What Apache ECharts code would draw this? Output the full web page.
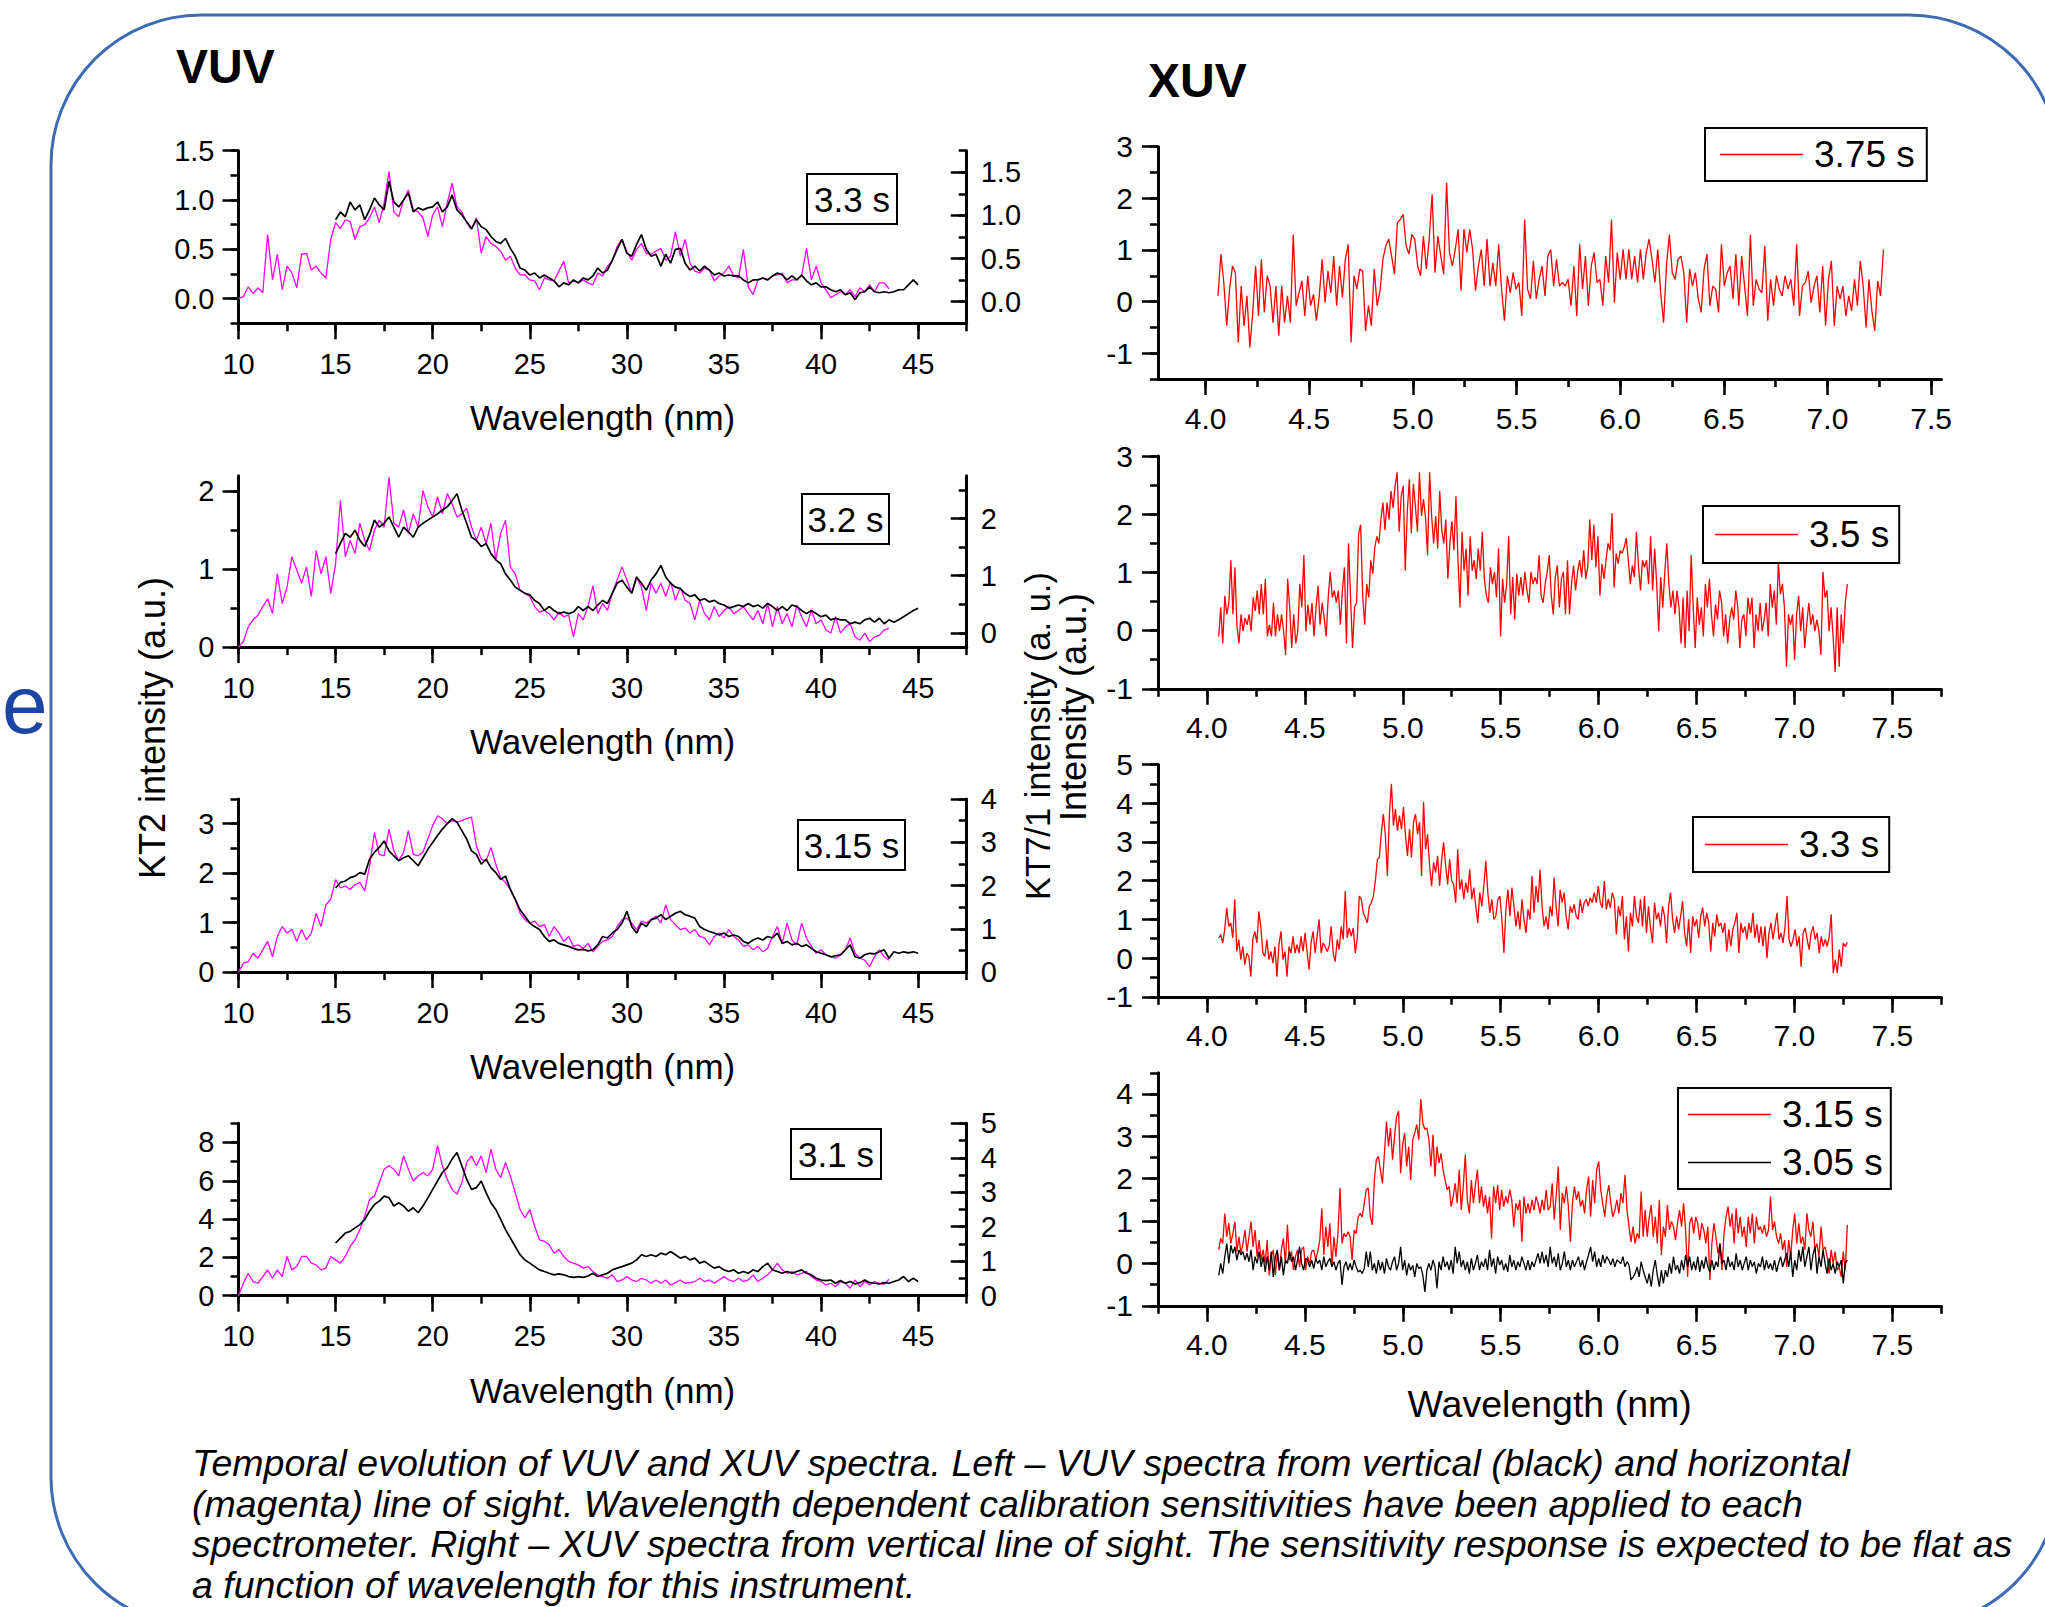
<!DOCTYPE html>
<html><head><meta charset="utf-8">
<script src="https://cdn.jsdelivr.net/npm/echarts@6/dist/echarts.min.js"></script>
<style>html,body{margin:0;padding:0;background:#fff}#c{width:2045px;height:1607px}</style>
</head><body><div id="c"></div>
<script>
// ---------------- DATA ----------------
// VUV spectra: wavelength grid, magenta (horizontal LOS) from 10 nm, black (vertical LOS) from 15 nm, step 0.25 nm
const VUV_STEP = 0.25;
const VUV_MAG_START = 10;
const VUV_BLK_START = 15;
const vuvTimes = ['3.3 s', '3.2 s', '3.15 s', '3.1 s'];

const vuvMag_33 = [0.0,0.02,0.12,0.05,0.11,0.06,0.65,0.19,0.45,0.09,0.33,0.26,0.11,0.45,0.46,0.29,0.33,0.26,0.21,0.6,
0.77,0.71,0.8,0.78,0.6,0.73,0.75,0.82,0.93,0.77,0.97,1.29,0.88,0.83,1.0,1.1,0.9,0.88,0.82,0.63,0.85,0.93,0.73,0.97,1.17,0.93,0.88,0.77,
0.7,0.82,0.46,0.63,0.56,0.53,0.48,0.39,0.43,0.31,0.24,0.24,0.19,0.18,0.09,0.21,0.19,0.18,0.28,0.38,0.16,0.18,0.16,0.19,0.16,0.14,0.26,0.23,
0.33,0.38,0.53,0.6,0.48,0.39,0.5,0.56,0.46,0.45,0.48,0.51,0.39,0.43,0.68,0.43,0.6,0.36,0.28,0.26,0.31,0.29,0.18,0.23,0.26,0.33,0.23,0.21,
0.5,0.12,0.04,0.19,0.21,0.19,0.23,0.24,0.26,0.16,0.19,0.19,0.23,0.51,0.19,0.33,0.16,0.09,0.01,0.04,0.07,0.04,0.09,0.02,0.11,0.07,0.14,0.07,
0.16,0.16,0.10];
const vuvBlk_33 = [0.8,0.88,0.83,0.98,0.9,0.95,0.8,0.9,1.02,0.95,0.9,1.19,0.98,0.93,1.0,1.07,0.88,0.92,0.9,0.92,0.93,0.98,0.88,0.93,
1.05,0.9,0.85,0.78,0.71,0.8,0.73,0.7,0.63,0.58,0.56,0.61,0.51,0.43,0.31,0.29,0.24,0.26,0.21,0.24,0.21,0.18,0.12,0.16,
0.14,0.19,0.16,0.21,0.19,0.23,0.31,0.26,0.29,0.39,0.5,0.6,0.46,0.43,0.55,0.65,0.5,0.43,0.45,0.33,0.45,0.36,0.5,0.51,
0.36,0.29,0.33,0.28,0.33,0.29,0.24,0.26,0.23,0.24,0.23,0.23,0.19,0.16,0.19,0.19,0.21,0.19,0.23,0.26,0.24,0.19,0.23,0.19,
0.24,0.18,0.14,0.16,0.12,0.12,0.09,0.07,0.09,0.04,0.06,-0.01,0.06,0.07,0.12,0.07,0.06,0.07,0.06,0.07,0.09,0.09,0.14,0.19,0.14];

const vuvMag_32 = [0,0.07,0.26,0.35,0.41,0.52,0.62,0.43,0.94,0.56,0.77,1.16,0.99,0.82,1.03,0.65,1.24,0.94,1.16,0.69,
1.07,1.88,1.16,1.37,1.2,1.59,1.37,1.24,1.5,1.63,1.54,2.18,1.59,1.54,1.76,1.46,1.71,1.54,2.01,1.8,1.67,1.93,1.71,1.97,
1.84,1.67,1.71,1.78,1.54,1.37,1.54,1.33,1.59,1.12,1.46,1.63,1.03,0.94,0.73,0.69,0.65,0.52,0.45,0.47,0.43,0.35,0.45,0.39,
0.41,0.13,0.43,0.35,0.52,0.79,0.43,0.56,0.47,0.69,0.86,1.03,0.86,0.69,0.9,0.77,0.47,0.82,0.69,0.82,0.65,0.84,0.6,0.77,
0.6,0.56,0.35,0.6,0.43,0.35,0.52,0.39,0.47,0.52,0.43,0.47,0.52,0.43,0.35,0.47,0.3,0.56,0.26,0.52,0.3,0.43,0.26,0.54,
0.39,0.26,0.47,0.3,0.35,0.22,0.18,0.39,0.18,0.26,0.3,0.13,0.09,0.18,0.07,0.13,0.15,0.22,0.24];
const vuvBlk_32 = [1.2,1.33,1.46,1.41,1.5,1.37,1.29,1.44,1.63,1.54,1.59,1.67,1.54,1.41,1.54,1.48,1.41,1.54,1.59,1.63,
1.67,1.71,1.76,1.8,1.88,1.97,1.76,1.59,1.41,1.37,1.29,1.33,1.2,1.12,1.07,0.94,0.86,0.77,0.73,0.69,0.67,0.6,0.56,0.47,
0.52,0.47,0.43,0.45,0.43,0.45,0.52,0.47,0.52,0.47,0.54,0.6,0.56,0.69,0.82,0.86,0.77,0.69,0.9,0.82,0.73,0.86,0.94,1.05,
0.9,0.82,0.77,0.75,0.69,0.65,0.67,0.6,0.62,0.58,0.6,0.56,0.54,0.5,0.52,0.54,0.52,0.56,0.52,0.54,0.5,0.56,0.52,0.47,
0.52,0.47,0.54,0.52,0.47,0.43,0.47,0.43,0.39,0.41,0.35,0.37,0.35,0.35,0.3,0.32,0.3,0.35,0.37,0.32,0.37,0.3,0.35,0.32,
0.35,0.39,0.43,0.47,0.5];

const vuvMag_315 = [0,0.18,0.21,0.38,0.28,0.45,0.62,0.31,0.72,0.92,0.79,0.86,0.62,0.86,0.65,0.79,1.19,0.92,1.36,1.47,
1.87,1.70,1.74,1.67,1.77,1.81,1.64,2.15,2.82,2.38,2.35,2.89,2.45,2.25,2.42,2.86,2.38,2.35,2.42,2.69,2.96,3.16,3.10,3.00,
3.06,3.03,3.06,3.10,3.13,2.55,2.28,2.25,2.52,2.18,1.91,1.81,1.67,1.47,1.19,1.06,0.99,1.03,0.92,0.96,0.72,0.92,0.79,0.62,
0.72,0.52,0.55,0.48,0.58,0.41,0.52,0.62,0.65,0.72,0.92,1.06,1.09,0.99,0.86,1.03,0.99,1.06,1.13,0.99,1.36,1.06,0.96,0.86,
0.89,0.79,0.86,0.72,0.69,0.55,0.72,0.79,0.69,0.86,0.72,0.65,0.52,0.55,0.45,0.52,0.41,0.48,0.72,0.92,0.58,0.99,0.65,0.55,
0.99,0.69,0.52,0.38,0.45,0.35,0.31,0.28,0.35,0.45,0.69,0.38,0.28,0.24,0.11,0.31,0.45,0.31,0.24];
const vuvBlk_315 = [1.70,1.81,1.84,1.91,1.94,2.01,1.98,2.28,2.42,2.52,2.65,2.45,2.35,2.25,2.31,2.35,2.25,2.15,2.31,2.48,
2.62,2.76,2.89,3.0,3.1,3.03,2.86,2.69,2.45,2.38,2.18,2.28,2.11,2.01,1.87,1.94,1.67,1.47,1.26,1.13,0.99,0.92,0.86,0.72,
0.62,0.65,0.58,0.55,0.52,0.48,0.45,0.46,0.43,0.45,0.55,0.72,0.69,0.79,0.86,0.99,1.23,0.92,0.79,0.99,0.92,1.06,1.09,1.16,
1.06,1.13,1.19,1.23,1.16,1.13,1.09,0.92,0.86,0.82,0.79,0.75,0.79,0.72,0.75,0.72,0.62,0.58,0.65,0.69,0.65,0.72,0.69,0.79,
0.58,0.62,0.55,0.58,0.52,0.55,0.48,0.41,0.38,0.35,0.31,0.33,0.35,0.45,0.55,0.31,0.28,0.35,0.38,0.37,0.41,0.45,0.28,0.41,
0.38,0.41,0.39,0.41,0.38];

const vuvMag_31 = [0,0.65,1.17,0.74,0.65,1.0,1.35,0.91,1.35,1.0,2.05,1.35,1.52,2.05,2.05,1.7,1.61,1.35,1.44,2.05,
1.87,1.7,2.05,2.57,2.92,3.45,4.15,5.03,5.2,5.9,6.6,6.78,6.6,6.25,7.3,6.6,5.99,6.25,6.43,6.25,6.6,7.83,6.78,6.08,
5.55,5.29,5.9,6.95,7.3,6.78,7.3,6.43,7.65,6.6,6.16,6.95,6.25,5.38,4.5,4.06,4.5,3.63,2.92,2.84,2.66,2.22,2.4,2.05,
1.79,1.7,1.61,1.44,1.52,1.26,1.09,1.0,0.91,1.09,0.74,0.82,1.0,0.82,0.74,0.91,0.82,0.65,0.82,0.65,0.82,0.56,0.68,0.82,
0.65,0.68,0.74,0.91,0.74,0.82,0.65,0.82,1.0,0.82,0.74,0.91,0.74,0.82,1.09,0.74,0.91,1.09,1.35,1.7,1.35,1.17,1.26,1.09,
1.17,1.26,1.0,0.82,0.74,0.56,0.65,0.47,0.74,0.65,0.39,0.82,0.47,0.74,0.56,0.74,0.65,0.61,0.86];
const vuvBlk_31 = [2.75,3.01,3.27,3.36,3.54,3.71,3.98,4.41,4.76,4.94,5.2,5.11,4.68,4.85,4.68,4.41,4.59,4.33,4.68,5.11,
5.55,5.99,6.43,6.69,7.13,7.48,6.78,6.08,5.55,5.64,5.99,5.38,4.85,4.5,3.98,3.45,3.01,2.57,2.14,1.87,1.7,1.52,1.35,1.26,
1.17,1.09,1.14,1.09,1.0,0.96,1.0,0.96,1.03,1.17,1.0,1.09,1.17,1.35,1.44,1.52,1.61,1.7,1.87,2.14,2.05,2.14,2.05,2.22,
2.14,2.31,2.14,1.96,2.05,1.87,1.96,1.7,1.79,1.61,1.44,1.52,1.35,1.26,1.35,1.17,1.26,1.17,1.35,1.26,1.52,1.7,1.35,1.26,
1.17,1.26,1.17,1.26,1.35,1.17,1.09,0.91,0.82,0.79,0.82,0.65,0.79,0.65,0.74,0.61,0.68,0.82,0.68,0.65,0.61,0.68,0.65,0.74,
0.82,1.0,0.74,0.91,0.74];

// XUV spectra: uniformly sampled between 4.06 nm and 7.27 nm
const XUV_START = 4.06;
const XUV_END = 7.27;
const xuvTimes = ['3.75 s', '3.5 s', '3.3 s', '3.15 s', '3.05 s'];

const xuv_375 = [0.11,0.92,0.37,-0.47,0.24,0.69,0.56,-0.79,0.3,-0.47,0.11,-0.89,-0.21,0.69,-0.28,0.82,-0.21,0.5,0.3,-0.41,0.3,-0.66,0.3,-0.41,0.11,-0.41,1.3,-0.08,0.17,0.4,-0.28,0.5,-0.08,0.14,-0.37,0.11,0.82,-0.02,0.59,0.17,0.88,-0.08,0.69,0.08,0.82,1.11,-0.79,0.5,0.24,0.63,0.59,-0.57,-0.08,-0.47,0.63,-0.08,0.21,0.82,1.08,1.21,0.88,0.53,1.53,1.59,1.69,1.08,0.92,1.3,1.21,0.69,0.5,1.27,0.63,1.21,2.08,0.56,1.27,0.88,0.53,2.3,0.95,0.69,1.01,1.4,0.21,1.4,0.95,1.4,1.01,0.21,0.69,1.01,0.3,1.21,0.3,0.75,0.3,1.11,0.24,-0.37,0.5,0.17,0.56,0.24,0.37,-0.28,1.59,0.24,0.05,0.79,0.05,0.43,0.69,0.11,0.88,1.01,0.3,0.82,0.3,0.37,0.3,0.43,-0.08,0.69,-0.28,1.11,0.24,0.88,-0.08,0.69,0.95,0.37,0.43,-0.08,0.88,0.37,1.59,-0.02,0.95,0.43,1.01,0.43,1.01,0.43,0.88,0.37,1.01,0.43,0.95,1.21,0.82,0.37,1.01,0.17,-0.41,0.69,1.3,0.56,0.43,0.82,0.88,0.56,-0.41,0.63,0.3,0.56,0.05,-0.21,0.63,0.92,-0.08,0.3,0.24,-0.21,1.11,0.3,0.56,0.69,0.05,0.92,-0.08,0.88,0.3,-0.28,1.3,-0.08,0.43,0.24,0.17,1.08,-0.37,0.43,-0.08,0.5,0.24,0.11,0.5,0.24,0.43,-0.08,1.11,-0.28,0.3,0.37,0.59,-0.02,0.3,0.5,-0.21,0.69,-0.47,0.43,0.79,-0.47,0.3,0.05,0.3,-0.28,0.11,-0.18,0.43,-0.08,0.79,0.3,-0.5,0.43,-0.18,-0.57,0.4,0.11,1.01];

const xuv_35 = [-0.1,0.4,-0.22,0.6,0.28,0.48,1.21,0.28,1.09,0.08,-0.22,0.28,-0.01,0.22,0.1,0.28,-0.01,0.57,0.34,0.69,0.28,0.8,0.28,0.89,-0.1,0.1,-0.1,0.48,-0.1,0.28,-0.01,0.28,-0.01,-0.42,0.89,0.4,-0.3,0.28,-0.22,-0.01,0.8,0.4,1.3,-0.01,0.45,0.1,0.48,-0.1,0.4,0.77,0.1,0.48,0.22,-0.1,0.57,1.01,0.57,0.69,0.48,0.69,0.1,0.69,1.09,-0.22,1.5,0.6,-0.3,0.4,0.48,1.67,1.82,0.6,0.1,0.8,0.57,1.21,0.98,1.44,1.62,1.5,1.91,2.2,1.73,2.2,1.91,2.4,2.11,2.49,2.72,1.7,2.31,2.49,1.03,2.05,2.6,1.67,2.52,2.14,1.7,2.72,1.97,2.26,1.94,1.3,2.72,1.97,1.5,1.97,1.41,2.4,1.73,1.5,1.91,0.89,1.5,1.88,1.38,2.31,1.21,0.4,1.7,1.03,1.41,0.6,1.62,1.03,1.21,0.89,1.41,1.03,1.7,0.89,0.6,0.48,1.09,0.8,1.01,0.57,1.41,-0.1,0.89,0.48,0.8,1.62,0.28,0.92,0.19,0.98,0.6,0.92,0.6,1.01,0.69,0.48,1.01,0.8,0.92,0.8,1.3,0.6,0.48,0.8,1.01,1.3,0.6,0.28,0.92,1.12,0.4,0.89,1.01,0.28,1.21,0.28,0.8,1.12,0.69,1.01,1.21,0.92,1.38,0.89,1.09,1.91,1.21,1.82,1.09,1.62,0.6,1.15,0.89,1.21,1.5,1.38,2.02,0.74,1.33,1.15,1.38,1.33,1.44,1.59,1.21,0.8,1.12,0.92,1.7,1.12,0.69,1.21,1.09,1.21,0.8,1.62,0.69,1.41,0.8,-0.01,0.92,0.4,1.01,1.5,0.8,0.4,0.69,0.28,0.69,0.4,-0.22,0.57,-0.3,0.69,-0.01,1.3,0.4,-0.3,0.57,0.1,0.4,-0.1,0.8,0.4,0.89,0.28,-0.1,0.45,0.19,0.69,0.48,-0.1,0.28,-0.22,0.19,0.4,0.19,0.69,0.4,-0.3,0.19,0.28,-0.1,0.57,0.28,0.57,-0.3,0.28,-0.01,0.48,-0.01,0.19,0.48,-0.1,0.8,0.4,0.69,0.1,1.18,0.63,0.8,0.4,-0.62,0.28,0.1,0.28,-0.5,0.28,0.6,-0.01,0.4,-0.3,0.1,0.48,0.1,0.28,-0.01,0.19,-0.01,-0.42,1.01,0.57,0.69,-0.01,0.4,-0.1,-0.71,0.4,-0.62,0.28,-0.22,0.48,0.8];

const xuv_33 = [0.52,0.61,0.39,0.74,1.3,0.82,0.91,0.52,1.52,0.17,0.48,-0.04,0.3,-0.17,0.13,0.04,-0.48,0.48,0.69,0.39,1.21,0.78,0.13,0.04,0.48,-0.04,0.17,-0.13,0.3,-0.48,0.35,0.69,-0.04,0.17,-0.48,0.3,0.13,0.56,0.13,0.35,0.13,0.56,0.17,0.65,0.17,-0.3,0.39,0.69,0.13,0.56,1.0,0.13,0.39,0.3,0.17,0.3,0.82,0.13,-0.09,0.48,0.22,0.82,0.48,1.73,0.52,0.78,0.56,0.78,0.13,0.52,1.6,1.52,1.17,1.04,0.91,1.34,1.43,1.6,1.99,2.55,2.6,3.25,3.72,3.16,2.12,3.72,4.5,3.42,3.85,3.29,3.68,3.33,3.9,3.16,2.64,3.33,2.6,3.51,3.72,3.2,3.51,2.12,4.03,2.81,3.2,2.38,1.86,2.47,2.21,2.64,1.86,2.55,2.99,2.38,1.9,2.55,1.99,1.9,1.43,2.81,1.77,2.03,1.52,1.95,1.69,2.29,1.52,1.82,1.34,0.91,1.69,1.34,1.86,2.51,1.69,1.17,1.52,1.0,1.08,1.52,1.6,1.0,0.13,1.26,1.77,1.08,1.82,1.34,0.82,1.21,0.74,1.52,1.0,0.65,1.26,1.0,2.12,1.17,1.86,1.43,2.29,1.34,0.82,1.08,0.74,1.34,1.08,2.08,1.34,0.82,1.77,1.43,1.69,1.08,0.74,1.34,1.17,1.39,1.08,1.0,1.52,1.17,1.43,1.52,1.34,1.56,1.43,1.69,1.43,1.86,1.43,1.3,1.99,1.26,1.52,1.3,1.69,1.52,0.61,1.34,1.08,1.6,0.48,1.08,0.17,1.17,0.82,1.6,1.08,0.91,1.52,0.82,1.6,0.65,1.34,0.78,0.39,1.43,1.0,1.17,0.82,1.34,1.08,0.39,1.34,1.69,1.0,0.65,1.08,0.74,1.08,1.47,0.65,0.3,1.0,0.13,1.08,0.82,1.0,0.52,1.08,1.3,0.82,1.17,0.91,0.17,0.91,0.56,1.13,0.82,0.91,0.65,0.91,0.17,0.74,0.3,0.74,0.91,1.17,0.13,0.91,0.65,0.82,0.48,0.91,0.65,1.17,0.52,0.87,0.39,0.82,0.3,0.82,0.0,0.65,0.91,0.48,0.82,1.17,0.48,0.65,0.39,0.82,1.6,0.48,0.3,0.48,0.74,0.3,0.56,-0.22,0.65,0.78,0.48,0.22,0.65,0.82,0.48,0.65,0.13,0.56,0.3,0.48,0.3,0.56,1.13,-0.39,-0.04,-0.39,0.22,-0.22,0.39,0.3,0.41];

const xuv_315 = [0.32,0.59,0.47,1.18,0.63,0.95,0.47,0.71,0.99,0.28,0.63,0.24,0.47,0.79,0.28,0.63,0.99,0.39,0.79,0.16,0.55,0.08,0.32,0.0,0.55,-0.28,0.16,0.32,-0.28,0.24,-0.16,0.32,0.59,0.0,0.91,0.08,0.28,-0.16,0.16,0.32,-0.08,0.32,0.39,-0.16,0.16,0.0,0.28,0.32,0.08,0.28,0.55,1.3,0.2,0.87,0.39,0.95,-0.08,0.63,0.16,0.71,1.78,0.47,0.71,0.63,0.75,0.63,0.08,0.79,0.71,1.1,1.18,1.1,1.42,1.74,1.78,1.1,0.91,1.97,2.45,2.53,2.21,1.89,2.6,3.35,2.76,3.2,2.45,3.0,3.47,3.59,2.13,2.8,3.08,2.29,2.76,1.97,2.92,3.08,3.28,2.92,3.88,3.31,3.16,3.2,2.92,2.29,3.04,2.05,2.76,2.37,2.6,2.21,1.97,1.74,1.82,1.34,1.58,1.89,1.42,2.21,1.26,1.82,2.57,1.5,1.18,1.97,1.42,1.85,2.21,1.42,1.82,1.34,1.62,1.18,1.58,0.59,1.82,1.42,1.85,1.26,1.74,1.34,1.58,1.42,1.74,1.5,0.87,1.42,1.26,1.5,0.51,1.58,1.18,1.42,1.18,1.5,1.26,1.58,1.42,1.18,1.5,1.26,1.74,1.26,1.34,1.89,1.03,1.62,2.29,0.79,1.66,1.42,1.82,1.34,0.51,1.42,1.82,1.5,1.7,1.34,1.5,1.18,1.74,2.05,1.1,1.97,1.42,2.21,2.41,1.74,1.42,1.1,1.58,1.85,1.42,1.1,1.26,1.5,1.18,1.66,1.42,2.09,1.26,0.87,0.51,0.87,0.47,0.71,0.59,1.7,0.63,1.26,0.63,1.1,1.38,0.63,1.1,0.47,1.5,0.2,0.87,0.63,1.38,0.79,0.99,0.87,0.55,0.95,1.26,0.87,1.42,0.79,-0.32,0.95,1.1,0.71,1.1,0.95,0.55,0.95,0.79,0.47,0.87,-0.39,0.47,0.95,0.63,0.24,0.47,-0.16,0.71,1.1,1.34,0.87,1.18,0.47,1.3,0.71,1.1,0.63,0.87,0.39,1.1,0.71,1.18,0.47,1.1,0.79,0.87,0.71,0.91,0.63,0.79,1.58,0.79,0.99,0.63,0.47,0.71,0.32,0.55,-0.08,0.55,0.16,0.79,1.18,0.47,0.95,0.47,0.63,0.32,1.18,0.79,0.63,0.99,0.32,0.47,0.16,0.87,0.32,0.39,0.16,-0.24,0.32,0.0,0.28,-0.16,-0.08,-0.32,0.28,-0.16,0.91];

const xuv_305 = [-0.28,0.0,-0.24,0.16,0.47,0.0,0.43,0.24,0.39,0.08,0.32,0.2,0.28,0.08,0.24,0.04,0.32,-0.16,0.16,0.0,0.28,-0.08,0.16,-0.2,0.16,-0.16,0.28,-0.32,0.16,0.32,-0.16,0.16,-0.28,0.08,0.0,0.28,0.04,0.16,-0.16,0.08,0.39,0.0,-0.16,0.12,0.08,-0.08,0.08,-0.12,0.12,0.0,0.08,-0.16,0.16,-0.08,0.04,0.12,-0.08,0.04,-0.16,0.0,0.08,-0.51,-0.08,0.04,-0.16,0.0,-0.16,0.08,-0.08,-0.2,-0.16,-0.24,-0.12,0.28,-0.08,0.28,-0.16,0.0,-0.24,0.08,-0.16,0.04,-0.24,0.12,-0.08,-0.16,0.04,0.16,-0.16,0.0,0.39,-0.16,0.08,-0.28,0.0,-0.16,-0.04,-0.32,0.0,-0.12,-0.08,-0.28,-0.67,-0.16,0.0,-0.16,0.08,-0.08,-0.59,0.04,-0.16,0.16,-0.08,0.04,-0.16,0.08,-0.24,0.39,0.0,0.28,-0.08,0.08,-0.16,0.04,-0.24,0.12,-0.16,0.0,0.2,-0.16,0.04,-0.08,0.12,-0.16,0.32,-0.08,0.12,-0.24,0.16,-0.04,0.08,-0.16,0.0,-0.2,0.2,-0.08,0.08,-0.16,0.04,-0.08,0.16,0.0,-0.16,0.08,-0.16,0.04,-0.08,0.08,0.24,0.0,0.28,0.0,0.2,-0.08,0.39,0.0,0.16,-0.08,0.24,-0.16,0.0,0.28,-0.08,0.08,-0.16,0.08,-0.08,0.04,0.16,-0.08,0.08,-0.16,0.04,0.2,0.39,0.04,0.28,-0.08,0.12,-0.08,0.2,0.0,0.16,0.08,-0.04,0.12,-0.08,0.08,0.04,0.0,0.16,-0.08,0.04,-0.04,-0.39,-0.32,-0.24,-0.08,-0.32,0.04,-0.16,-0.32,-0.47,-0.24,-0.55,-0.16,0.08,-0.28,-0.55,-0.16,-0.47,-0.16,-0.32,0.0,-0.24,0.16,-0.16,-0.04,-0.24,0.08,-0.16,0.2,-0.08,0.16,-0.16,0.04,-0.16,0.16,-0.2,0.08,-0.12,0.16,-0.08,-0.2,0.08,-0.16,0.04,-0.08,0.47,0.0,0.08,-0.16,0.16,-0.08,0.04,-0.16,0.24,-0.08,0.08,-0.16,0.0,0.16,-0.16,0.08,-0.08,0.04,-0.24,0.0,-0.08,0.16,-0.16,0.08,-0.12,0.0,-0.16,0.08,-0.2,0.0,0.16,-0.08,0.08,0.24,-0.08,0.28,-0.32,0.08,-0.16,0.32,0.04,0.39,-0.08,0.16,0.39,-0.16,0.2,0.39,-0.24,0.16,-0.08,0.32,0.0,-0.24,0.12,-0.16,0.0,-0.24,0.04,-0.08,0.08,-0.47,0.0,0.08];

// ---------------- helpers ----------------
const FONT = '"Liberation Sans", Arial, Helvetica, sans-serif';
function wlGrid(start, step, vals) { return vals.map((v, i) => [+(start + i * step).toFixed(3), v]); }
function wlSpan(start, end, vals) { const st = (end - start) / (vals.length - 1); return vals.map((v, i) => [+(start + i * st).toFixed(4), v]); }
function ticks(a, b, s) { const out = []; for (let k = 0; a + k * s <= b + 1e-9; k++) out.push(+(a + k * s).toFixed(4)); return out; }
const fmt1 = v => v.toFixed(1);
const fmt0 = v => String(Math.round(v));

const MAG = '#ff00ff', BLK = '#000000', RED = '#ff0000';

const vuvX = { min: 10, max: 47.5, major: ticks(10, 45, 5), minor: ticks(10, 47.5, 2.5), fmt: fmt0, fs: 29, margin: 26, name: 'Wavelength (nm)', nameGap: 77, nameFs: 35 };
const xuvX = { min: 3.75, max: 7.75, major: ticks(4, 7.5, 0.5), minor: ticks(3.75, 7.75, 0.25), fmt: fmt1, fs: 30, margin: 24 };

const panels = [
  { rect: [238.5, 150.7, 728.2, 172.6], x: vuvX,
    y: { min: -0.25, max: 1.5, major: ticks(0, 1.5, 0.5), minor: ticks(-0.25, 1.5, 0.25), fmt: fmt1, fs: 29, margin: 24 },
    y2: { min: -0.25, max: 1.75, major: ticks(0, 1.5, 0.5), minor: ticks(-0.25, 1.75, 0.25), fmt: fmt1, fs: 29, margin: 14 },
    series: [ { name: 'VUV horizontal ' + vuvTimes[0], color: MAG, w: 1.3, data: wlGrid(VUV_MAG_START, VUV_STEP, vuvMag_33) },
              { name: 'VUV vertical ' + vuvTimes[0], color: BLK, w: 1.7, data: wlGrid(VUV_BLK_START, VUV_STEP, vuvBlk_33) } ] },
  { rect: [238.5, 475.7, 728.2, 171.4], x: vuvX,
    y: { min: 0, max: 2.2, major: ticks(0, 2, 1), minor: ticks(0, 2, 0.5), fmt: fmt0, fs: 29, margin: 24 },
    y2: { min: -0.25, max: 2.75, major: ticks(0, 2, 1), minor: ticks(0, 2.5, 0.5), fmt: fmt0, fs: 29, margin: 14 },
    series: [ { name: 'VUV horizontal ' + vuvTimes[1], color: MAG, w: 1.3, data: wlGrid(VUV_MAG_START, VUV_STEP, vuvMag_32) },
              { name: 'VUV vertical ' + vuvTimes[1], color: BLK, w: 1.7, data: wlGrid(VUV_BLK_START, VUV_STEP, vuvBlk_32) } ] },
  { rect: [238.5, 798.9, 728.2, 173.2], x: vuvX,
    y: { min: 0, max: 3.5, major: ticks(0, 3, 1), minor: ticks(0, 3.5, 0.5), fmt: fmt0, fs: 29, margin: 24 },
    y2: { min: 0, max: 4, major: ticks(0, 4, 1), minor: ticks(0, 4, 0.5), fmt: fmt0, fs: 29, margin: 14 },
    series: [ { name: 'VUV horizontal ' + vuvTimes[2], color: MAG, w: 1.3, data: wlGrid(VUV_MAG_START, VUV_STEP, vuvMag_315) },
              { name: 'VUV vertical ' + vuvTimes[2], color: BLK, w: 1.7, data: wlGrid(VUV_BLK_START, VUV_STEP, vuvBlk_315) } ] },
  { rect: [238.5, 1123.3, 728.2, 172.4], x: vuvX,
    y: { min: 0, max: 9, major: ticks(0, 8, 2), minor: ticks(0, 9, 1), fmt: fmt0, fs: 29, margin: 24 },
    y2: { min: 0, max: 5, major: ticks(0, 5, 1), minor: ticks(0, 5, 0.5), fmt: fmt0, fs: 29, margin: 14 },
    series: [ { name: 'VUV horizontal ' + vuvTimes[3], color: MAG, w: 1.3, data: wlGrid(VUV_MAG_START, VUV_STEP, vuvMag_31) },
              { name: 'VUV vertical ' + vuvTimes[3], color: BLK, w: 1.7, data: wlGrid(VUV_BLK_START, VUV_STEP, vuvBlk_31) } ] },
  { rect: [1157.9, 146.7, 783.6, 232.3],
    x: { min: 3.77, max: 7.55, major: ticks(4, 7.5, 0.5), minor: ticks(4, 7.5, 0.25), fmt: fmt1, fs: 30, margin: 24 },
    y: { min: -1.5, max: 3, major: ticks(-1, 3, 1), minor: ticks(-1.5, 3, 0.5), fmt: fmt0, fs: 30, margin: 25 },
    series: [ { name: xuvTimes[0], color: RED, w: 1.3, data: wlSpan(XUV_START, XUV_END, xuv_375) } ] },
  { rect: [1158, 456.1, 783.3, 232.7], x: xuvX,
    y: { min: -1, max: 3, major: ticks(-1, 3, 1), minor: ticks(-1, 3, 0.5), fmt: fmt0, fs: 30, margin: 25 },
    series: [ { name: xuvTimes[1], color: RED, w: 1.3, data: wlSpan(XUV_START, XUV_END, xuv_35) } ] },
  { rect: [1158, 764.5, 783.3, 232.3], x: xuvX,
    y: { min: -1, max: 5, major: ticks(-1, 5, 1), minor: ticks(-1, 5, 0.5), fmt: fmt0, fs: 30, margin: 25 },
    series: [ { name: xuvTimes[2], color: RED, w: 1.3, data: wlSpan(XUV_START, XUV_END, xuv_33) } ] },
  { rect: [1158, 1072.8, 783.3, 233], x: Object.assign({}, xuvX, { name: 'Wavelength (nm)', nameGap: 79, nameFs: 37.5 }),
    y: { min: -1, max: 4.5, major: ticks(-1, 4, 1), minor: ticks(-1, 4.5, 0.5), fmt: fmt0, fs: 30, margin: 25 },
    series: [ { name: xuvTimes[3], color: RED, w: 1.3, data: wlSpan(XUV_START, XUV_END, xuv_315) },
              { name: xuvTimes[4], color: BLK, w: 1.3, data: wlSpan(XUV_START, XUV_END, xuv_305) } ] }
];

const grids = [], xAxes = [], yAxes = [], series = [];
function mainAxis(gi, s, pos) {
  const a = { gridIndex: gi, type: 'value', position: pos, min: s.min, max: s.max, scale: true,
    axisLine: { show: true, onZero: false, lineStyle: { color: '#000', width: 3 } },
    axisTick: { show: true, inside: pos === 'right', length: 16, customValues: s.major, lineStyle: { color: '#000', width: 2.5 } },
    axisLabel: { show: true, customValues: s.major, formatter: s.fmt, fontSize: s.fs, color: '#000', fontFamily: FONT, margin: s.margin },
    splitLine: { show: false }, minorTick: { show: false } };
  if (s.name) {
    a.name = s.name; a.nameLocation = 'middle'; a.nameGap = s.nameGap;
    a.nameTextStyle = { fontSize: s.nameFs, color: '#000', fontFamily: FONT };
  }
  return a;
}
function minorAxis(gi, s, pos) {
  return { gridIndex: gi, type: 'value', position: pos, min: s.min, max: s.max, scale: true,
    axisLine: { show: false, onZero: false },
    axisTick: { show: true, inside: pos === 'right', length: 8, customValues: s.minor, lineStyle: { color: '#000', width: 2.5 } },
    axisLabel: { show: false }, splitLine: { show: false } };
}
panels.forEach(p => {
  const g = { left: p.rect[0], top: p.rect[1], width: p.rect[2], height: p.rect[3], containLabel: false, outerBoundsMode: 'none' };
  const gMain = grids.length; grids.push(Object.assign({}, g));
  const gOv = grids.length; grids.push(Object.assign({}, g));
  const xi = xAxes.length;
  xAxes.push(mainAxis(gMain, p.x, 'bottom'));
  xAxes.push(minorAxis(gOv, p.x, 'bottom'));
  const yi = yAxes.length;
  yAxes.push(mainAxis(gMain, p.y, 'left'));
  yAxes.push(minorAxis(gOv, p.y, 'left'));
  if (p.y2) { yAxes.push(mainAxis(gMain, p.y2, 'right')); yAxes.push(minorAxis(gOv, p.y2, 'right')); }
  p.series.forEach(s => series.push({ type: 'line', name: s.name, xAxisIndex: xi, yAxisIndex: yi, data: s.data,
    symbol: 'none', showSymbol: false, silent: true, animation: false, clip: true,
    lineStyle: { color: s.color, width: s.w }, itemStyle: { color: s.color } }));
});

const legendCommon = { orient: 'vertical', selectedMode: false, icon: 'rect', itemWidth: 83, itemHeight: 1.6, itemGap: 11,
  textStyle: { fontSize: 37, color: '#000', fontFamily: FONT, padding: [0, 0, 0, 6] }, borderColor: '#000', borderWidth: 2, backgroundColor: '#fff', z: 10 };
const legends = [
  Object.assign({}, legendCommon, { data: [xuvTimes[0]], left: 1705, top: 128, padding: [8, 12, 8, 15] }),
  Object.assign({}, legendCommon, { data: [xuvTimes[1]], left: 1703, top: 506, padding: [10, 10, 10, 12] }),
  Object.assign({}, legendCommon, { data: [xuvTimes[2]], left: 1693, top: 817, padding: [9, 10, 9, 12] }),
  Object.assign({}, legendCommon, { data: [xuvTimes[3], xuvTimes[4]], left: 1678, top: 1088, padding: [8, 8, 8, 10] })
];

function txt(text, x, y, font, align, vAlign, color, rot) {
  const el = { type: 'text', x: x, y: y, silent: true, z: 20,
    style: { text: text, font: font, fill: color || '#000', align: align, verticalAlign: vAlign, textAlign: align, textVerticalAlign: vAlign } };
  if (rot) el.rotation = rot;
  return el;
}
const graphics = [];
graphics.push({ type: 'rect', silent: true, z: 0, shape: { x: 51, y: 15, width: 2008, height: 1612, r: 150 },
  style: { fill: 'none', stroke: '#3d6cb3', lineWidth: 3 } });
graphics.push(txt('e', 2, 704, '82px ' + FONT, 'left', 'middle', '#1c46a3'));
graphics.push(txt('VUV', 176, 66, 'bold 48px ' + FONT, 'left', 'middle'));
graphics.push(txt('XUV', 1148, 80, 'bold 48px ' + FONT, 'left', 'middle'));
graphics.push(txt('KT2 intensity (a.u.)', 152.5, 728, '36px ' + FONT, 'center', 'middle', '#000', Math.PI / 2));
graphics.push(txt('KT7/1 intensity (a. u.)', 1038, 736, '34.5px ' + FONT, 'center', 'middle', '#000', Math.PI / 2));
graphics.push(txt('Intensity (a.u.)', 1073, 707, '36px ' + FONT, 'center', 'middle', '#000', Math.PI / 2));
const boxes = [[807, 174, 897, 224], [802, 494, 889, 544], [798, 820, 905, 870], [791, 1129, 881, 1179]];
boxes.forEach((b, i) => {
  graphics.push({ type: 'rect', silent: true, z: 15, shape: { x: b[0], y: b[1], width: b[2] - b[0], height: b[3] - b[1] },
    style: { fill: '#fff', stroke: '#000', lineWidth: 2 } });
  graphics.push(txt(vuvTimes[i], (b[0] + b[2]) / 2, (b[1] + b[3]) / 2, '35px ' + FONT, 'center', 'middle'));
});
const caption = [
  'Temporal evolution of VUV and XUV spectra. Left \u2013 VUV spectra from vertical (black) and horizontal',
  '(magenta) line of sight. Wavelength dependent calibration sensitivities have been applied to each',
  'spectrometer. Right \u2013 XUV spectra from vertical line of sight. The sensitivity response is expected to be flat as',
  'a function of wavelength for this instrument.'
];
caption.forEach((line, i) => graphics.push(txt(line, 192, 1463 + i * 40.5, 'italic 37.5px ' + FONT, 'left', 'middle')));

const chart = echarts.init(document.getElementById('c'), null, { renderer: 'svg', width: 2045, height: 1607 });
chart.setOption({
  animation: false,
  backgroundColor: '#ffffff',
  textStyle: { fontFamily: FONT },
  grid: grids, xAxis: xAxes, yAxis: yAxes, series: series,
  legend: legends,
  graphic: graphics
});
</script></body></html>
